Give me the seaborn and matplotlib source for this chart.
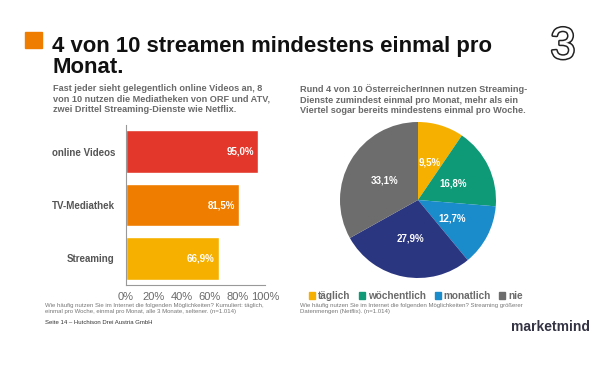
import matplotlib
matplotlib.use("Agg")
import matplotlib.pyplot as plt
import matplotlib.patheffects as pe
from matplotlib.patches import Patch, Rectangle
import seaborn as sns
import pandas as pd

# data
bar_labels = ["online Videos", "TV-Mediathek", "Streaming"]
bar_values = [95.0, 81.5, 66.9]
bar_colors = ["#E2372A", "#EF7D00", "#F6B100"]

pie_labels = ["täglich", "wöchentlich", "monatlich", "seltener", "nie"]
pie_values = [9.5, 16.8, 12.7, 27.9, 33.1]
pie_colors = ["#F6B100", "#0E9A77", "#1A8BCB", "#2B3680", "#6D6D6D"]
legend_labels = ["täglich", "wöchentlich", "monatlich", "nie"]

x_ticks = [0, 20, 40, 60, 80, 100]

sns.set_theme(style="white")
plt.rcParams["font.family"] = ["Liberation Sans", "DejaVu Sans"]

W, H = 616, 367
fig = plt.figure(figsize=(W / 100, H / 100), dpi=100)
fig.patch.set_facecolor("white")

def fx(x):
    return x / W

def fy(y):
    return 1 - y / H

grey = "#6a6a6a"

# header
fig.patches.append(Rectangle((fx(25), fy(48)), fx(17), 16 / H, transform=fig.transFigure,
                             color="#EF7D00", zorder=2))
fig.text(fx(52), fy(52), "4 von 10 streamen mindestens einmal pro", fontsize=15.9,
         fontweight="bold", color="#111111")
fig.text(fx(52), fy(73), "Monat.", fontsize=15.9, fontweight="bold", color="#111111")
fig.text(fx(563), fy(47), "3", fontsize=32, ha="center", va="center", color="white",
         path_effects=[pe.withStroke(linewidth=2.2, foreground="#222222")])

# subtitles
fig.text(fx(53), fy(84), "Fast jeder sieht gelegentlich online Videos an, 8\n"
         "von 10 nutzen die Mediatheken von ORF und ATV,\n"
         "zwei Drittel Streaming-Dienste wie Netflix.",
         fontsize=6.6, fontweight="bold", color=grey, va="top", linespacing=1.25)
fig.text(fx(300), fy(84), "Rund 4 von 10 ÖsterreicherInnen nutzen Streaming-\n"
         "Dienste zumindest einmal pro Monat, mehr als ein\n"
         "Viertel sogar bereits mindestens einmal pro Woche.",
         fontsize=6.6, fontweight="bold", color=grey, va="top", linespacing=1.25)

# bar chart
ax = fig.add_axes([fx(126), fy(285), fx(265) - fx(126), 160 / H])
df = pd.DataFrame({"label": bar_labels, "value": bar_values})
sns.barplot(data=df, y="label", x="value", hue="label", palette=bar_colors,
            legend=False, width=0.8, ax=ax, saturation=1)
ax.set_xlim(0, 100)
ax.set_ylim(2.5, -0.5)
ax.set_xlabel("")
ax.set_ylabel("")
ax.set_xticks(x_ticks)
ax.set_xticklabels([f"{t}%" for t in x_ticks], fontsize=8, color=grey)
ax.set_yticks(range(len(bar_labels)))
ax.set_yticklabels(bar_labels, fontsize=7, fontweight="bold", color="#555555")
ax.tick_params(axis="y", length=0, pad=8)
ax.tick_params(axis="x", length=3, color="#999999", direction="in", pad=5)
ax.set_yticks([-0.5, 0.5, 1.5, 2.5], minor=True)
ax.tick_params(axis="y", which="minor", length=3, color="#999999", direction="in")
for s in ["top", "right"]:
    ax.spines[s].set_visible(False)
for s in ["left", "bottom"]:
    ax.spines[s].set_color("#999999")
    ax.spines[s].set_linewidth(0.8)
for i, v in enumerate(bar_values):
    ax.text(v - 3, i, f"{v:.1f}%".replace(".", ","), ha="right", va="center",
            fontsize=7, fontweight="bold", color="white")

# pie chart
pax = fig.add_axes([fx(340), fy(278), 156 / W, 156 / H])
wedges, _, autotexts = pax.pie(pie_values, colors=pie_colors, startangle=90, counterclock=False,
                               autopct=lambda p: f"{p:.1f}%".replace(".", ","),
                               pctdistance=0.5, wedgeprops=dict(linewidth=0))
for t in autotexts:
    t.set_color("white")
    t.set_fontsize(7)
    t.set_fontweight("bold")
pax.set_xlim(-1, 1)
pax.set_ylim(-1, 1)
pax.set_aspect("equal")

handles = [Patch(color=pie_colors[pie_labels.index(l)]) for l in legend_labels]
leg = fig.legend(handles, legend_labels, loc="center", bbox_to_anchor=(fx(416), fy(296)),
                 ncol=4, frameon=False, fontsize=7.2, handlelength=0.6, handleheight=0.6,
                 handletextpad=0.25, columnspacing=0.9)
for t in leg.get_texts():
    t.set_color(grey)
    t.set_fontweight("bold")

# footnotes
fig.text(fx(45), fy(303), "Wie häufig nutzen Sie im Internet die folgenden Möglichkeiten? Kumuliert: täglich,\n"
         "einmal pro Woche, einmal pro Monat, alle 3 Monate, seltener. (n=1.014)",
         fontsize=4.3, color="#777777", va="top", linespacing=1.2)
fig.text(fx(300), fy(303), "Wie häufig nutzen Sie im Internet die folgenden Möglichkeiten? Streaming größerer\n"
         "Datenmengen (Netflix). (n=1.014)",
         fontsize=4.3, color="#777777", va="top", linespacing=1.2)
fig.text(fx(45), fy(323), "Seite 14 – Hutchison Drei Austria GmbH", fontsize=4.3,
         color="#333333", va="center")
fig.text(fx(590), fy(327), "marketmind", fontsize=10, fontweight="bold", color="#333344",
         ha="right", va="center")

fig.savefig("out.png", dpi=100)
